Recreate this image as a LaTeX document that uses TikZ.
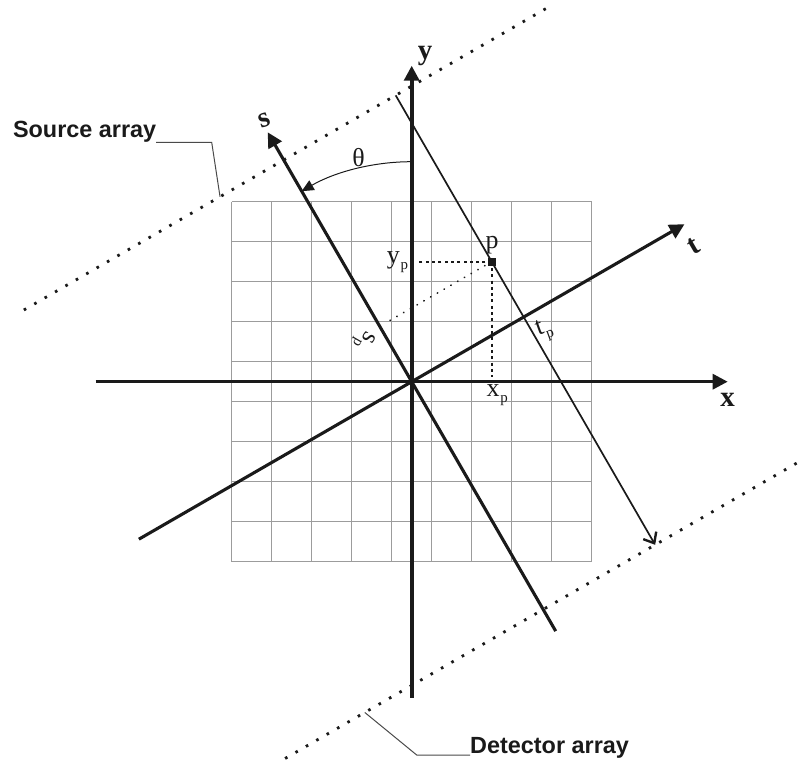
\documentclass[tikz,border=0pt]{standalone}
\usepackage{fontspec}
\setmainfont{Liberation Serif}
\newfontfamily\arraysans{Liberation Sans}
\usetikzlibrary{arrows.meta}
\definecolor{ink}{HTML}{1A1A1A}
\definecolor{gridgray}{HTML}{9C9C9C}
\definecolor{lead}{HTML}{4A4A4A}
\newcommand{\axisfont}{\fontsize{29}{29}\selectfont\bfseries}
\newcommand{\symfont}{\fontsize{26}{26}\selectfont}
\newcommand{\arrayfont}{\arraysans\fontsize{23.5}{24}\selectfont\bfseries}
\newcommand{\subp}{\kern0.8bp\raisebox{-6bp}{\fontsize{15}{15}\selectfont p}}
\tikzset{
  every node/.style={font=\symfont,text=ink,inner sep=0pt,outer sep=0pt},
  gridline/.style={draw=gridgray,line width=1.4bp},
  axis/.style={draw=ink,line width=3.1bp,-{Triangle[length=15bp,width=15bp]}},
  ray/.style={draw=ink,line width=1.7bp,-{Straight Barb[length=9bp,width=15bp,line width=2.4bp]}},
  sweep/.style={draw=ink,line width=1bp,-{Triangle[length=12bp,width=11bp]}},
  array/.style={draw=ink,line width=2.8bp,dash pattern=on 2.6bp off 9.4bp},
  proj/.style={draw=ink,line width=2.1bp,dash pattern=on 3bp off 3.3bp},
  projfaint/.style={draw=ink,line width=1.7bp,line cap=round,dash pattern=on 0.4bp off 7.4bp},
  leader/.style={draw=lead,line width=1bp},
  axislabel/.style={font=\axisfont},
  arraylabel/.style={font=\arrayfont},
  pmark/.style={fill=ink,minimum size=8bp}
}
\begin{document}
\begin{tikzpicture}[x=1bp,y=1bp]

\path[use as bounding box] (-411.7,-381.3) rectangle (392.3,381.7);
% 9x9 grid, 40bp cells, origin in the middle of the centre cell
\foreach \k in {-180,-140,...,180} {
  \draw[gridline] (\k,-180) -- (\k,180);
  \draw[gridline] (-180,\k) -- (180,\k);
}

\coordinate (O) at (0,0);
\coordinate (xl) at (-316,0);
\coordinate (xr) at (316,0);
\coordinate (yb) at (0,-316);
\coordinate (yt) at (0,316);

% rotated frame: first axis = t, second axis = s
\begin{scope}[rotate=30]
  \coordinate (tl) at (-315,0);
  \coordinate (tr) at (315,0);
  \coordinate (sb) at (0,-288);
  \coordinate (st) at (0,288);
  \coordinate (rayin) at (129.3,256);
  \coordinate (rayout) at (129.3,-263);
  \coordinate (src0) at (-300,256);
  \coordinate (src1) at (305,256);
  \coordinate (det0) at (-298,-263);
  \coordinate (det1) at (302,-263);
  \coordinate (spend) at (6,63.9);
  \coordinate (srcfoot) at (-73.5,256);
  \coordinate (detfoot) at (-206,-263);
\end{scope}

\draw[array] (src0) -- (src1);
\draw[array] (det0) -- (det1);

\draw[axis] (xl) -- (xr);
\draw[axis,line width=3.6bp] (yb) -- (yt);
\draw[axis] (sb) -- (st);
\draw[axis] (tl) -- (tr);
\draw[ray] (rayin) -- (rayout);

\coordinate (thetastart) at (0,220);
\draw[sweep] (thetastart) arc[start angle=90,end angle=120,radius=220];

\node[pmark] (p) at (80,120) {};
\coordinate (ypend) at (6,120);
\coordinate (xpend) at (80,5);
\draw[proj] (p.center) -- (ypend);
\draw[proj] (p.center) -- (xpend);
\draw[projfaint] (p.center) -- (spend);

\node[axislabel] (xlab) at (315.8,-18.3) {x};
\node[axislabel,anchor=base] (ylab) at (13.3,322) {y};
\node[axislabel,rotate=20] (slab) at (-146.7,261.2) {s};
\node[axislabel,rotate=30] (tlab) at (281.8,135.7) {t};
\node (theta) at (-53.2,224.2) {θ};
\node[anchor=base] (plab) at (80.3,132.7) {p};
\node[anchor=base east] (yplab) at (-3.7,118) {y\subp};
\node[anchor=base west] (xplab) at (75,-15) {x\subp};
\node[rotate=20] (tplab) at (133,51) {t\subp};
\node[rotate=-120] (splab) at (-48,42) {s\subp};

\node[arraylabel,anchor=base east] (srclab) at (-255.5,243.7) {Source array};
\node[arraylabel,anchor=base west] (detlab) at (58.5,-371.3) {Detector array};
\coordinate (srcknee) at (-200,239.4);
\coordinate (detknee) at (5,-373.3);
\draw[leader] ([yshift=-4.3bp]srclab.base east) -- (srcknee) -- (srcfoot);
\draw[leader] (detfoot) -- (detknee) -- ([yshift=-2bp]detlab.base west);
\end{tikzpicture}
\end{document}
